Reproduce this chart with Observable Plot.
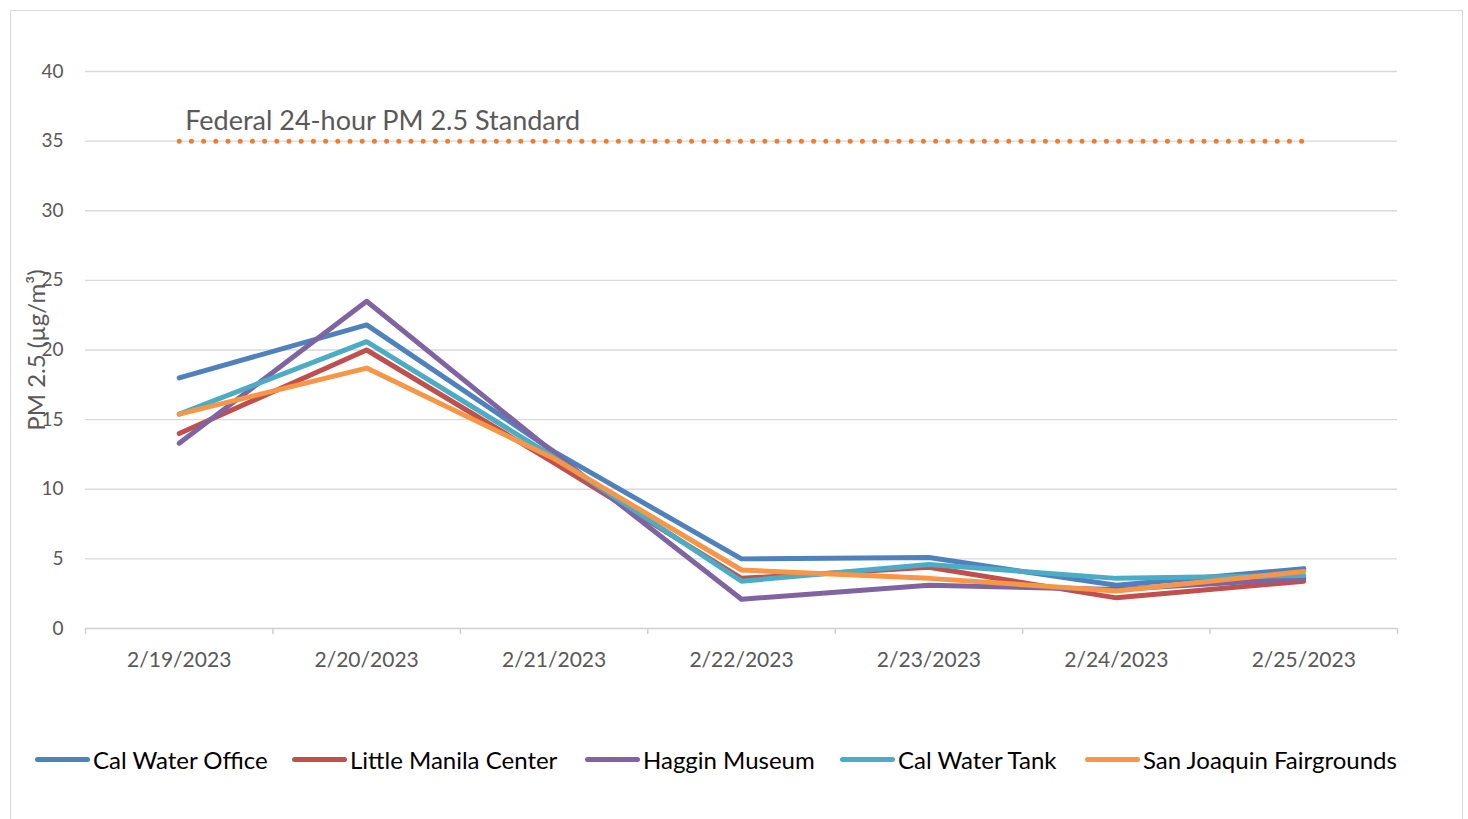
<!DOCTYPE html>
<html>
<head>
<meta charset="utf-8">
<script src="https://cdn.jsdelivr.net/npm/d3@7"></script>
<script src="https://cdn.jsdelivr.net/npm/@observablehq/plot@0.6"></script>
<style>
  html, body { margin: 0; padding: 0; background: #fff; }
  body { width: 1468px; height: 819px; position: relative; overflow: hidden; font-family: Lato, "Open Sans", sans-serif; }
  #frame { position: absolute; left: 10px; top: 10px; width: 1453px; height: 830px; border: 1px solid #d9d9d9; box-sizing: border-box; }
  #chart { position: absolute; left: 0; top: 0; }
  #legend { position: absolute; left: 0; top: 744px; width: 1468px; height: 30px; font-size: 24px; color: #000; white-space: nowrap; }
  .item { position: absolute; top: 0; display: flex; align-items: center; height: 30px; }
  .sw { width: 55px; height: 5px; border-radius: 3px; margin-right: 3px; }
</style>
</head>
<body>
<div id="frame"></div>
<div id="chart"></div>
<div id="legend"></div>
<script>
const dates = ["2/19/2023", "2/20/2023", "2/21/2023", "2/22/2023", "2/23/2023", "2/24/2023", "2/25/2023"];
const seriesNames = ["Cal Water Office", "Little Manila Center", "Haggin Museum", "Cal Water Tank", "San Joaquin Fairgrounds"];
const seriesColors = ["#4F81BD", "#C0504D", "#8064A2", "#4BACC6", "#F79646"];
const calWaterOffice = [18.0, 21.8, 12.7, 5.0, 5.1, 3.1, 4.3];
const littleManila   = [14.0, 20.0, 11.9, 3.6, 4.4, 2.2, 3.4];
const hagginMuseum   = [13.3, 23.5, 12.6, 2.1, 3.1, 2.8, 3.6];
const calWaterTank   = [15.4, 20.6, 12.3, 3.4, 4.6, 3.6, 3.8];
const fairgrounds    = [15.4, 18.7, 12.2, 4.2, 3.6, 2.7, 4.1];
const standardValue = 35;
const standardLabel = "Federal 24-hour PM 2.5 Standard";
const yTicks = [0, 5, 10, 15, 20, 25, 30, 35, 40];
const legendLeft = [35, 292, 585, 840, 1085];

const allSeries = [calWaterOffice, littleManila, hagginMuseum, calWaterTank, fairgrounds];
const rows = [];
allSeries.forEach((vals, s) => vals.forEach((v, i) => rows.push({series: seriesNames[s], i, v})));
const standardRows = dates.map((d, i) => ({i, v: standardValue}));
const boundaries = d3.range(dates.length + 1).map(k => k - 0.5);

const plot = Plot.plot({
  width: 1468,
  height: 700,
  marginLeft: 85,
  marginRight: 71,
  marginTop: 71,
  marginBottom: 72,
  style: {fontFamily: "Lato, 'Open Sans', sans-serif", background: "transparent"},
  x: {domain: [-0.5, dates.length - 0.5]},
  y: {domain: [0, 40]},
  color: {domain: seriesNames, range: seriesColors},
  marks: [
    Plot.ruleY(yTicks.filter(t => t > 0), {stroke: "#d9d9d9", strokeWidth: 1.3}),
    Plot.ruleY([0], {stroke: "#d0d0d0", strokeWidth: 1.5}),
    Plot.ruleX(boundaries, {x: d => d, y1: 0, y2: 0, insetBottom: -6, stroke: "#d0d0d0", strokeWidth: 1.5}),
    Plot.axisY({ticks: yTicks, tickSize: 0, tickPadding: 22, fontSize: 19, color: "#595959", label: "PM 2.5 (µg/m³)", labelAnchor: "center", labelArrow: "none", labelOffset: 58}),
    Plot.axisX({ticks: d3.range(dates.length), tickFormat: i => dates[i], tickSize: 0, tickPadding: 24, fontSize: 21, color: "#595959", label: null}),
    Plot.line(standardRows, {x: "i", y: "v", stroke: "#ED7D31", strokeWidth: 5, strokeDasharray: "0,12.2", strokeLinecap: "round"}),
    Plot.text([standardLabel], {x: 0, y: standardValue, text: d => d, textAnchor: "start", dx: 6, dy: -20, fontSize: 27, fill: "#595959"}),
    Plot.line(rows, {x: "i", y: "v", z: "series", stroke: "series", strokeWidth: 5, strokeLinecap: "round", strokeLinejoin: "round"})
  ]
});
document.getElementById("chart").appendChild(plot);

plot.querySelectorAll("text").forEach(t => {
  if (t.textContent === "PM 2.5 (µg/m³)") { t.setAttribute("font-size", 24); t.setAttribute("fill", "#595959"); }
});

const legend = document.getElementById("legend");
seriesNames.forEach((name, k) => {
  const item = document.createElement("div");
  item.className = "item";
  item.style.left = legendLeft[k] + "px";
  const sw = document.createElement("div");
  sw.className = "sw";
  sw.style.background = seriesColors[k];
  const lab = document.createElement("span");
  lab.textContent = name;
  item.appendChild(sw); item.appendChild(lab);
  legend.appendChild(item);
});
</script>
</body>
</html>
